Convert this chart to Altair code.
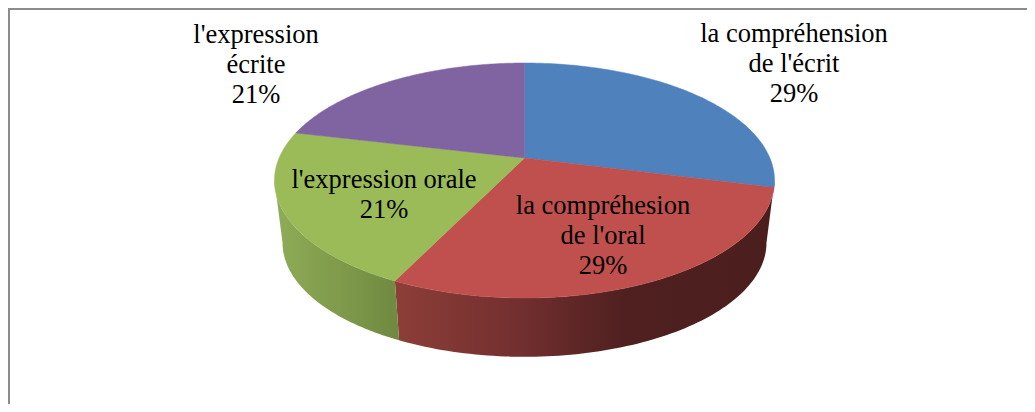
import math
import altair as alt

# Slice values (clockwise from 12 o'clock)
categories = ["la compréhension de l'écrit", "la compréhesion de l'oral", "l'expression orale", "l'expression écrite"]
shares = [29.0, 28.2, 21.5, 21.3]
top_colors = ["#4f81bd", "#c0504d", "#9bbb59", "#8064a2"]

label_lines = [
    "la compréhension\nde l'écrit\n29%",
    "la compréhesion\nde l'oral\n29%",
    "l'expression orale\n21%",
    "l'expression\nécrite\n21%",
]
label_pos = [(794, 42), (603, 214), (384, 188), (256, 43)]  # centre x, first baseline y in page pixels

W, H = 1019, 396
OFF = 8  # page margin

# perspective disc parameters: hub x, hub y, S, T, k
TOP = (524.5, 158.0, 245.4, 113.2, 0.1915)
LOW = (524.5, 221.0, 237.5, 109.8, 0.1915)


def pt(disc, deg):
    cx, cy, s, t, k = disc
    a = math.radians(deg)
    u, v = math.sin(a), math.cos(a)
    w = 1 + k * v
    return [cx + s * u / w - OFF, cy - t * v / w - OFF]


def arc(disc, a0, a1, n=90):
    return [pt(disc, a0 + (a1 - a0) * i / n) for i in range(n + 1)]


def feature(ring):
    return {"type": "Feature", "properties": {}, "geometry": {"type": "Polygon", "coordinates": [ring + [ring[0]]]}}


total = sum(shares)
edges = [0.0]
for s in shares:
    edges.append(edges[-1] + 360.0 * s / total)

proj = dict(type="identity", scale=1, translate=[0, 0])


def shape(ring, **mark):
    data = alt.InlineData(values={"type": "FeatureCollection", "features": [feature(ring)]},
                          format=alt.DataFormat(type="json", property="features"))
    return alt.Chart(data).mark_geoshape(**mark).project(**proj)


def grad(stops):
    return alt.Gradient(gradient="linear", x1=0, x2=1, y1=0, y2=0,
                        stops=[alt.GradientStop(color=c, offset=o) for o, c in stops])


layers = []

# side walls
red_stops = [(0, "#8d3e38"), (0.33, "#722f2f"), (0.6, "#502020"), (1, "#4b1e1e")]
green_stops = [(0, "#8fac58"), (0.5, "#7f9b4b"), (1, "#6f8a40")]
red_ring = arc(TOP, 101, edges[2]) + arc(LOW, edges[2], 101)
green_ring = arc(TOP, edges[2], 259) + arc(LOW, 259, edges[2])
layers.append(shape(red_ring, fill=grad(red_stops), stroke=None))
layers.append(shape(green_ring, fill=grad(green_stops), stroke=None))

# top face
hub = [TOP[0] - OFF, TOP[1] - OFF]
for i, c in enumerate(top_colors):
    ring = [hub] + arc(TOP, edges[i], edges[i + 1])
    layers.append(shape(ring, fill=c, stroke=c, strokeWidth=0.5))

# chart frame
layers.append(alt.Chart().mark_rule(color="#8c8c8c", strokeWidth=2).encode(
    x=alt.value(1), y=alt.value(0), y2=alt.value(H)))
layers.append(alt.Chart().mark_rule(color="#8c8c8c", strokeWidth=2).encode(
    x=alt.value(0), x2=alt.value(W), y=alt.value(1)))

# labels
for txt, (lx, ly) in zip(label_lines, label_pos):
    layers.append(alt.Chart().mark_text(
        font="Liberation Serif", fontSize=26.5, color="black", align="center", baseline="alphabetic",
        lineBreak="\n", lineHeight=30,
    ).encode(x=alt.value(lx - OFF), y=alt.value(ly - OFF), text=alt.value(txt)))

chart = alt.layer(*layers).properties(
    width=W, height=H, padding=0, background="white",
    autosize=alt.AutoSizeParams(type="none"),
).configure_view(stroke=None)

chart.save("out.html", embed_options={"renderer": "svg", "actions": False})
